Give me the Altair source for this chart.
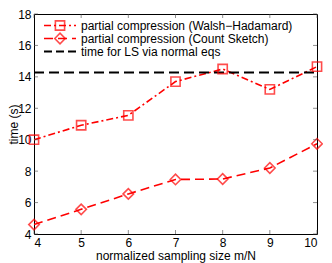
import altair as alt
import pandas as pd

x_vals = [4, 5, 6, 7, 8, 9, 10]
wh_vals = [10.0, 10.92, 11.55, 13.7, 14.5, 13.2, 14.65]
cs_vals = [4.6, 5.57, 6.55, 7.47, 7.5, 8.2, 9.74]
ls_time = 14.28
y_ticks = [4, 6, 8, 10, 12, 14, 16, 18]
legend_labels = ["partial compression (Walsh\u2212Hadamard)",
                 "partial compression (Count Sketch)",
                 "time for LS via normal eqs"]

W, H = 283, 220
FONT = "Liberation Sans"
RED = "#ff0000"
FS = 12

df = pd.DataFrame({"x": x_vals, "wh": wh_vals, "cs": cs_vals})
xs = alt.Scale(domain=[4, 10], nice=False)
ys = alt.Scale(domain=[4, 18], nice=False)
xaxis = alt.Axis(values=x_vals, title="normalized sampling size m/N", labelOverlap=False, titlePadding=2)
yaxis = alt.Axis(values=y_ticks, title="time (s)", labelOverlap=False,
                 titleX=-14, titleY=H / 2, titleAlign="center", titleBaseline="bottom")

base = alt.Chart(df)

wh_line = base.mark_line(color=RED, strokeWidth=1.6, strokeDash=[7, 3, 2, 3]).encode(
    x=alt.X("x:Q", scale=xs, axis=xaxis), y=alt.Y("wh:Q", scale=ys, axis=yaxis))
wh_pts = base.mark_point(shape="square", size=85, color=RED, strokeWidth=1.6, filled=False).encode(
    x=alt.X("x:Q", scale=xs, axis=xaxis), y=alt.Y("wh:Q", scale=ys, axis=yaxis))
cs_line = base.mark_line(color=RED, strokeWidth=1.6, strokeDash=[9, 5]).encode(
    x=alt.X("x:Q", scale=xs, axis=xaxis), y=alt.Y("cs:Q", scale=ys, axis=yaxis))
cs_pts = base.mark_point(shape="diamond", size=110, color=RED, strokeWidth=1.6, filled=False).encode(
    x=alt.X("x:Q", scale=xs, axis=xaxis), y=alt.Y("cs:Q", scale=ys, axis=yaxis))

ls_rule = alt.Chart(pd.DataFrame({"t": [ls_time]})).mark_rule(
    color="black", strokeWidth=2, strokeDash=[10, 5]).encode(
    y=alt.Y("t:Q", scale=ys, axis=yaxis), x=alt.value(0), x2=alt.value(W))

# inward ticks
xt = pd.DataFrame({"v": x_vals})
yt = pd.DataFrame({"v": y_ticks})
tick_style = dict(color="#444444", strokeWidth=0.6)
tb = alt.Chart(xt).mark_rule(**tick_style).encode(
    x=alt.X("v:Q", scale=xs, axis=xaxis), y=alt.value(H), y2=alt.value(H - 4))
tt = alt.Chart(xt).mark_rule(**tick_style).encode(
    x=alt.X("v:Q", scale=xs, axis=xaxis), y=alt.value(0), y2=alt.value(4))
tl = alt.Chart(yt).mark_rule(**tick_style).encode(
    y=alt.Y("v:Q", scale=ys, axis=yaxis), x=alt.value(0), x2=alt.value(4))
tr = alt.Chart(yt).mark_rule(**tick_style).encode(
    y=alt.Y("v:Q", scale=ys, axis=yaxis), x=alt.value(W), x2=alt.value(W - 4))

# legend
ly = [11.5, 24.5, 37.5]
one = pd.DataFrame({"a": [0]})
leg = [
    alt.Chart(one).mark_rule(color=RED, strokeWidth=1.6, strokeDash=[7, 3, 2, 3]).encode(
        x=alt.value(10), x2=alt.value(42), y=alt.value(ly[0])),
    alt.Chart(one).mark_point(shape="square", size=85, color=RED, strokeWidth=1.6).encode(
        x=alt.value(26), y=alt.value(ly[0])),
    alt.Chart(one).mark_rule(color=RED, strokeWidth=1.6, strokeDash=[9, 5]).encode(
        x=alt.value(10), x2=alt.value(42), y=alt.value(ly[1])),
    alt.Chart(one).mark_point(shape="diamond", size=110, color=RED, strokeWidth=1.6).encode(
        x=alt.value(26), y=alt.value(ly[1])),
    alt.Chart(one).mark_rule(color="black", strokeWidth=2, strokeDash=[8, 4]).encode(
        x=alt.value(10), x2=alt.value(42), y=alt.value(ly[2])),
]
for lab, yy in zip(legend_labels, ly):
    leg.append(alt.Chart(one).mark_text(
        align="left", baseline="middle", font=FONT, fontSize=FS, color="black").encode(
        x=alt.value(47), y=alt.value(yy), text=alt.value(lab)))

chart = alt.layer(wh_line, cs_line, ls_rule, wh_pts, cs_pts, tb, tt, tl, tr, *leg).properties(
    width=W, height=H,
    autosize=alt.AutoSizeParams(type="none"),
    padding={"left": 26, "top": 6, "right": 6, "bottom": 29},
).configure_view(stroke="black", strokeWidth=1).configure_axis(
    grid=False, domain=False, ticks=False, labelFont=FONT, titleFont=FONT,
    labelFontSize=FS, titleFontSize=FS, labelColor="black", titleColor="black",
    titleFontWeight="normal", labelPadding=3,
)

chart.save("out.html", embed_options={"renderer": "svg", "actions": False})
